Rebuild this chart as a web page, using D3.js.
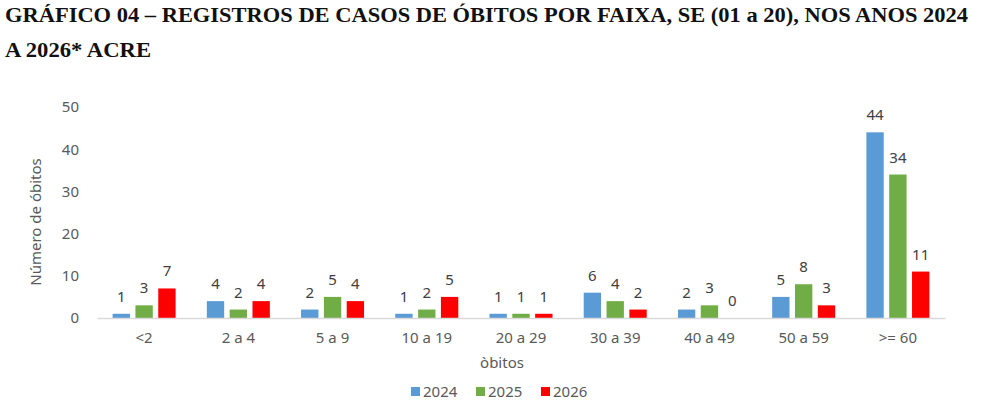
<!DOCTYPE html>
<html><head><meta charset="UTF-8">
<style>
  body { margin: 0; background: #fff; }
  svg text { font-family: "Noto Sans", "Open Sans", sans-serif; }
</style>
</head>
<body>
<svg id="chart"></svg>
<script src="https://cdn.jsdelivr.net/npm/d3@7"></script>
<script>
// faixas etárias e anos
var faixas = ["<2", "2 a 4", "5 a 9", "10 a 19", "20 a 29", "30 a 39", "40 a 49", "50 a 59", ">= 60"];
var anos = ["2024", "2025", "2026"];
var obitos2024 = [1, 4, 2, 1, 1, 6, 2, 5, 44];
var obitos2025 = [3, 2, 5, 2, 1, 4, 3, 8, 34];
var obitos2026 = [7, 4, 4, 5, 1, 2, 0, 3, 11];
var yTicks = [0, 10, 20, 30, 40, 50];
var cores = ["#5B9BD5", "#70AD47", "#FF0000"];

var width = 984, height = 414;
var margin = {top: 107, left: 97, right: 39, bottom: 96};

var svg = d3.select("#chart").attr("width", width).attr("height", height);

var series = [obitos2024, obitos2025, obitos2026];
var dados = faixas.map(function (f, i) {
  return {faixa: f, valores: series.map(function (s, j) { return {ano: anos[j], v: s[i]}; })};
});

// titulo
var titulo = svg.append("g");
titulo.append("text").attr("x", 5).attr("y", 22)
  .attr("font-size", 22).attr("font-weight", "bold").attr("fill", "#111")
  .attr("textLength", 963).attr("lengthAdjust", "spacingAndGlyphs")
  .style("font-family", "'Liberation Serif', serif")
  .text("GRÁFICO 04 – REGISTROS DE CASOS DE ÓBITOS POR FAIXA, SE (01 a 20), NOS ANOS 2024");
titulo.append("text").attr("x", 5).attr("y", 57)
  .attr("font-size", 22).attr("font-weight", "bold").attr("fill", "#111")
  .attr("textLength", 146).attr("lengthAdjust", "spacingAndGlyphs")
  .style("font-family", "'Liberation Serif', serif")
  .text("A 2026* ACRE");

var x = d3.scaleBand().domain(faixas)
  .range([margin.left, width - margin.right]);
var x1 = d3.scaleBand().domain(anos).range([0, 63]).paddingInner(0.24);
var y = d3.scaleLinear().domain([0, 50]).range([height - margin.bottom, margin.top]);

// eixo y (sem linha)
var yAxis = svg.append("g").attr("transform", "translate(" + margin.left + ",0)")
  .call(d3.axisLeft(y).tickValues(yTicks).tickSize(0).tickPadding(18));
yAxis.select(".domain").remove();
yAxis.selectAll("text").attr("font-size", 15).attr("fill", "#595959")
  .style("font-family", "'Noto Sans', sans-serif");

// barras
var grupos = svg.selectAll("g.grupo").data(dados).enter().append("g")
  .attr("class", "grupo")
  .attr("transform", function (d) { return "translate(" + (x(d.faixa) + (x.bandwidth() - 63) / 2) + ",0)"; });

grupos.selectAll("rect").data(function (d) { return d.valores; }).enter().append("rect")
  .attr("x", function (d) { return x1(d.ano); })
  .attr("width", x1.bandwidth())
  .attr("y", function (d) { return y(d.v); })
  .attr("height", function (d) { return y(0) - y(d.v); })
  .attr("fill", function (d, i) { return cores[i]; });

grupos.selectAll("text").data(function (d) { return d.valores; }).enter().append("text")
  .attr("x", function (d) { return x1(d.ano) + x1.bandwidth() / 2; })
  .attr("y", function (d) { return y(d.v) - 12; })
  .attr("text-anchor", "middle").attr("font-size", 15).attr("fill", "#404040")
  .text(function (d) { return d.v; });

// eixo x
var xAxis = svg.append("g").attr("transform", "translate(0," + y(0) + ")")
  .call(d3.axisBottom(x).tickSize(0).tickPadding(14));
xAxis.select(".domain").attr("stroke", "#d9d9d9").attr("stroke-width", 1.5);
xAxis.selectAll("text").attr("font-size", 15).attr("fill", "#595959")
  .style("font-family", "'Noto Sans', sans-serif");

// titulos dos eixos
svg.append("text").attr("x", 502).attr("y", 368).attr("text-anchor", "middle")
  .attr("font-size", 15).attr("fill", "#595959").text("òbitos");
svg.append("text").attr("transform", "translate(41,222) rotate(-90)")
  .attr("text-anchor", "middle").attr("font-size", 15).attr("fill", "#595959")
  .text("Número de óbitos");

// legenda
var legPos = [411, 476, 541];
var leg = svg.selectAll("g.leg").data(anos).enter().append("g").attr("class", "leg")
  .attr("transform", function (d, i) { return "translate(" + legPos[i] + ",387)"; });
leg.append("rect").attr("width", 9).attr("height", 9).attr("fill", function (d, i) { return cores[i]; });
leg.append("text").attr("x", 12).attr("y", 10).attr("font-size", 15).attr("fill", "#595959")
  .text(function (d) { return d; });
</script>
</body></html>
